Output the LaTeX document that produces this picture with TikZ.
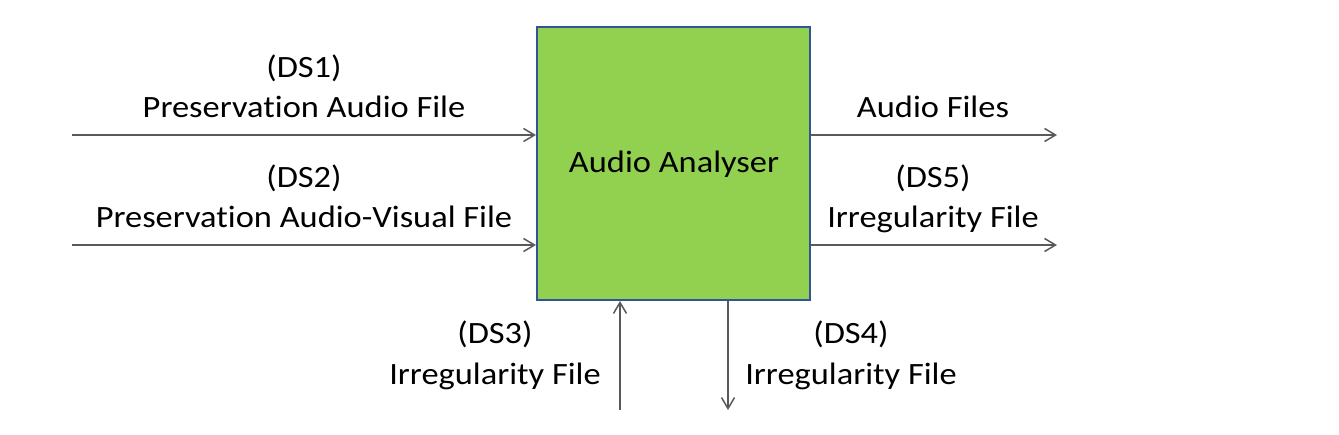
\documentclass[tikz,border=0pt]{standalone}
\usepackage{fontspec}
\setmainfont{Carlito}[FakeStretch=1.11,Ligatures=NoCommon]
\usetikzlibrary{arrows.meta}
\definecolor{boxgreen}{HTML}{92D050}
\definecolor{boxblue}{HTML}{2F5597}
\definecolor{linegray}{HTML}{595959}
\tikzset{
  lbl/.style={anchor=base, inner sep=0pt, font=\fontsize{31}{37}\selectfont},
  flow/.style={draw=linegray, line width=1.5pt, -{Straight Barb[length=11pt,width=13pt]}},
  procbox/.style={draw=boxblue, fill=boxgreen, line width=2pt, minimum width=273pt, minimum height=273pt, inner sep=0pt}
}
\begin{document}
\begin{tikzpicture}[x=1pt,y=-1pt]
\useasboundingbox (0,0) rectangle (1339,434);
\node[procbox] (box) at (673.5,163.5) {};
\node[lbl] (title) at (674,172) {Audio Analyser};
% left inputs
\coordinate (in1) at (72,135);
\coordinate (in2) at (72,245);
\draw[flow] (in1) -- (in1 -| box.west);
\draw[flow] (in2) -- (in2 -| box.west);
\node[lbl] (ds1) at (304,77) {(DS1)};
\node[lbl] (ds1b) at (304,117) {Preservation Audio File};
\node[lbl] (ds2) at (304,187) {(DS2)};
\node[lbl] (ds2b) at (304,227) {Preservation Audio-Visual File};
% right outputs
\coordinate (out1) at (1057,135);
\coordinate (out2) at (1057,245);
\draw[flow] (out1 -| box.east) -- (out1);
\draw[flow] (out2 -| box.east) -- (out2);
\node[lbl] (af) at (933,117) {Audio Files};
\node[lbl] (ds5) at (933,187) {(DS5)};
\node[lbl] (ds5b) at (933,227) {Irregularity File};
% bottom
\coordinate (b3) at (620,410);
\coordinate (b4) at (728,410);
\draw[flow] (b3) -- (b3 |- box.south);
\draw[flow] (b4 |- box.south) -- (b4);
\node[lbl] (ds3) at (495,343) {(DS3)};
\node[lbl] (ds3b) at (495,384) {Irregularity File};
\node[lbl] (ds4) at (851,343) {(DS4)};
\node[lbl] (ds4b) at (851,384) {Irregularity File};
\end{tikzpicture}
\end{document}
